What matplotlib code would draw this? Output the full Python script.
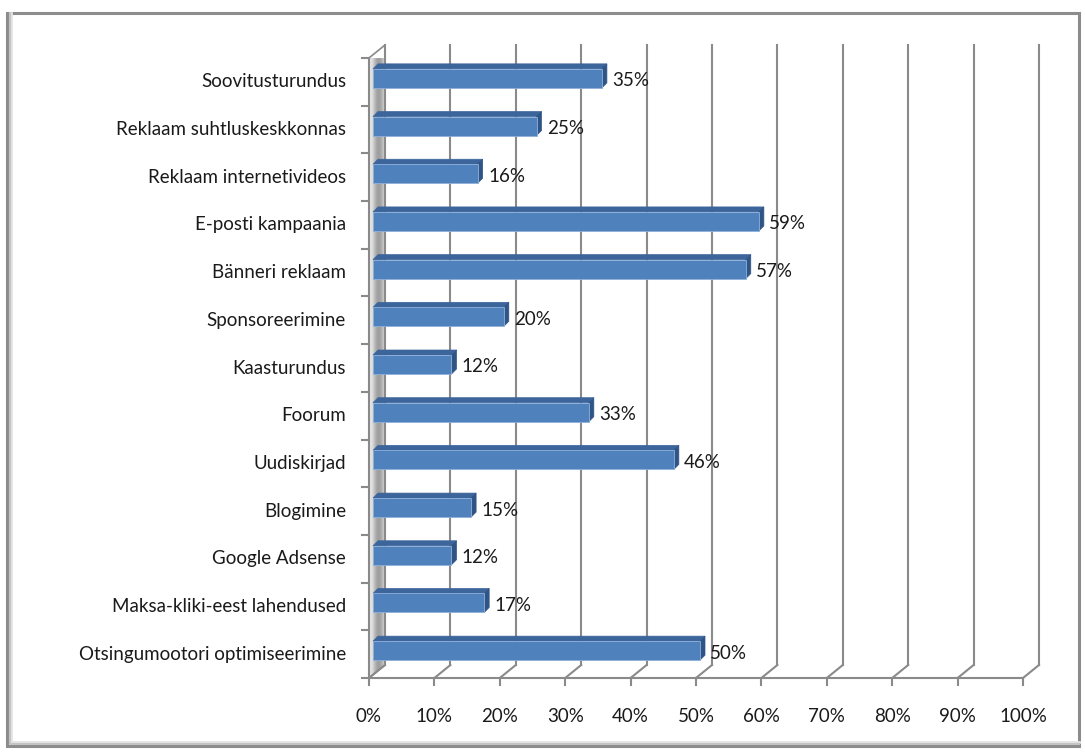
import matplotlib
matplotlib.use("Agg")
import matplotlib.pyplot as plt
import matplotlib.patches as patches
import numpy as np

# data, bottom row first
categories = [
    "Otsingumootori optimiseerimine",
    "Maksa-kliki-eest lahendused",
    "Google Adsense",
    "Blogimine",
    "Uudiskirjad",
    "Foorum",
    "Kaasturundus",
    "Sponsoreerimine",
    "Bänneri reklaam",
    "E-posti kampaania",
    "Reklaam internetivideos",
    "Reklaam suhtluskeskkonnas",
    "Soovitusturundus",
]
values = [50, 17, 12, 15, 46, 33, 12, 20, 57, 59, 16, 25, 35]
x_ticks = [0, 10, 20, 30, 40, 50, 60, 70, 80, 90, 100]

plt.rcParams['font.family'] = ['Lato', 'DejaVu Sans']
fs = 13.5

W, H = 1085, 756
fig = plt.figure(figsize=(W / 100, H / 100), dpi=100)

# front plane of the plot in pixels
x0_px, x1_px = 369, 1023
ybot_px, ytop_px = 678, 58
ax = fig.add_axes([x0_px / W, (H - ybot_px) / H,
                   (x1_px - x0_px) / W, (ybot_px - ytop_px) / H])
n = len(categories)

px_x = (x1_px - x0_px) / 100.0          # pixels per %
px_y = (ybot_px - ytop_px) / n          # pixels per row

# depth offsets (3d look)
dx, dy = 16 / px_x, 13 / px_y
fx, fy = 4 / px_x, 3.5 / px_y           # bar front face offset
bx, by = 5 / px_x, 5 / px_y             # bar depth
h = 9.5 / px_y                          # half bar height

grid_c = '#8a8a8a'

# outer frame with a soft shadow on the left / bottom
for off, c, lw in [(4, '#e4e4e4', 2), (2.5, '#c4c4c4', 1.5)]:
    fig.add_artist(plt.Line2D([(7 + off) / W, (7 + off) / W, 1079 / W],
                              [1 - 13 / H, 1 - (746 - off) / H, 1 - (746 - off) / H],
                              transform=fig.transFigure, color=c, lw=lw))
fig.patches.append(patches.Rectangle((7 / W, 1 - 746 / H), 1072 / W, 733 / H,
                                     transform=fig.transFigure, fill=False,
                                     edgecolor='#8c8c8c', lw=2.2))

# left wall with metallic gradient
wall = patches.Polygon([(0, 0), (dx, dy), (dx, n + dy), (0, n)], closed=True,
                       facecolor='none', edgecolor=grid_c, lw=1.2, clip_on=False,
                       zorder=2)
ax.add_patch(wall)
shade = np.array([0.90, 0.86, 0.74, 0.64, 0.62, 0.68, 0.80])
img = ax.imshow(np.tile(shade, (2, 1)), cmap='gray', vmin=0, vmax=1,
                extent=(0, dx, 0, n + dy), aspect='auto', zorder=1,
                interpolation='bilinear')
img.set_clip_path(wall)
ax.set_xlim(0, 100)
ax.set_ylim(0, n)
ax.axis('off')

# gridlines on back wall + floor diagonals + ticks
for t in x_ticks:
    ax.plot([t + dx, t + dx], [dy, n + dy], color=grid_c, lw=1.5,
            clip_on=False, zorder=2)
    ax.plot([t, t + dx], [0, dy], color=grid_c, lw=1.5, clip_on=False, zorder=2)
    ax.plot([t, t], [0, -7 / px_y], color=grid_c, lw=1.5, clip_on=False, zorder=2)
    ax.text(t, -39 / px_y, f"{t}%", ha='center', va='center', fontsize=fs,
            color='#1a1a1a')
ax.plot([0, 100], [0, 0], color=grid_c, lw=1.5, clip_on=False, zorder=2)
ax.plot([0, 0], [0, n], color=grid_c, lw=1.5, clip_on=False, zorder=3)
for k in range(n + 1):
    ax.plot([-7 / px_x, 0], [k, k], color=grid_c, lw=1.5, clip_on=False, zorder=3)

# bars
front_c, top_c, side_c = '#4f81bd', '#3c659c', '#2f5486'
for i, (cat, v) in enumerate(zip(categories, values)):
    yc = i + 0.5 + fy
    front = patches.Rectangle((fx, yc - h), v, 2 * h, facecolor=front_c,
                              edgecolor='#8fb0da', lw=0.6, zorder=5, clip_on=False)
    top = patches.Polygon([(fx, yc + h), (v + fx, yc + h),
                           (v + fx + bx, yc + h + by), (fx + bx, yc + h + by)],
                          closed=True, facecolor=top_c, edgecolor=top_c, lw=0.5,
                          zorder=5, clip_on=False)
    side = patches.Polygon([(v + fx, yc - h), (v + fx + bx, yc - h + by),
                            (v + fx + bx, yc + h + by), (v + fx, yc + h)],
                           closed=True, facecolor=side_c, edgecolor=side_c, lw=0.5,
                           zorder=5, clip_on=False)
    ax.add_patch(top)
    ax.add_patch(side)
    ax.add_patch(front)
    ax.text(v + 2.2, i + 0.5 + 1 / px_y, f"{v}%", ha='left', va='center',
            fontsize=fs, color='#1a1a1a', zorder=6)
    ax.text(-23 / px_x, i + 0.5, cat, ha='right', va='center', fontsize=fs,
            color='#1a1a1a')

fig.savefig("out.png", dpi=100, facecolor='white')
